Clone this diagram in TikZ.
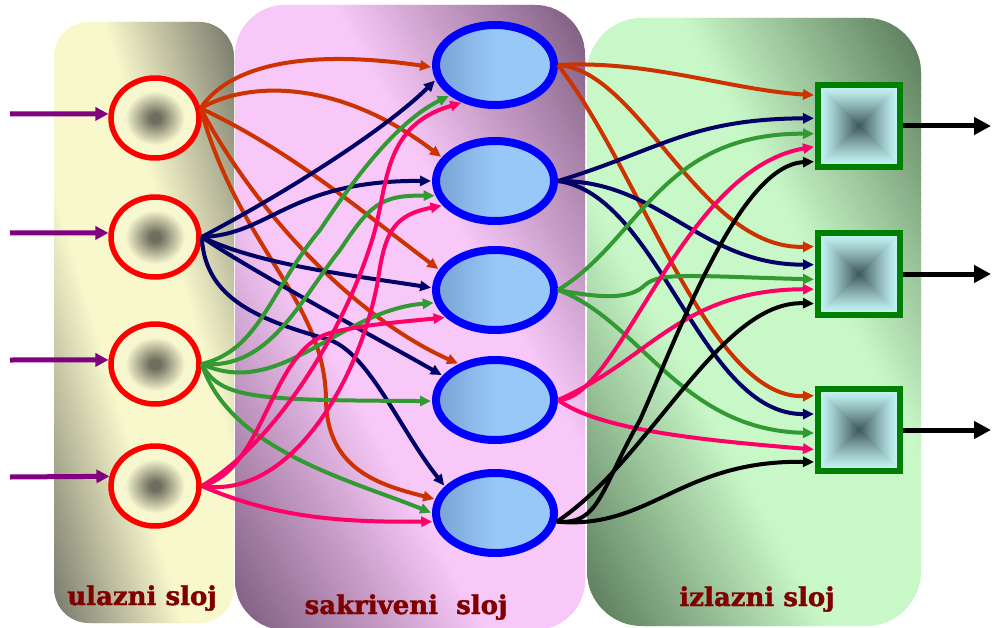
\documentclass[tikz,border=0pt]{standalone}
\usepackage{fontspec}
\newfontfamily\lblfont{DejaVu Serif}[BoldFeatures={FakeBold=1.5}]
\usetikzlibrary{arrows.meta,shapes.geometric}
\definecolor{p1l}{HTML}{F8F8CC}
\definecolor{p1d}{HTML}{76766A}
\definecolor{p2l}{HTML}{F8C8F8}
\definecolor{p2d}{HTML}{7A5A7C}
\definecolor{p3l}{HTML}{C8F8C8}
\definecolor{p3d}{HTML}{567656}
\definecolor{hl}{HTML}{98C8F8}
\definecolor{hd}{HTML}{78A2D2}
\definecolor{icD}{HTML}{6E6E5E}
\definecolor{icL}{HTML}{F8F8D0}
\definecolor{sqL}{HTML}{C8F8F8}
\definecolor{sqD}{HTML}{3E585C}
\definecolor{cOr}{HTML}{CC3300}
\definecolor{cNv}{HTML}{000066}
\definecolor{cGr}{HTML}{339933}
\definecolor{cPk}{HTML}{FF0066}
\definecolor{purp}{HTML}{800080}
\definecolor{grn}{HTML}{008000}
\definecolor{lblred}{HTML}{800000}
\pgfdeclareradialshading{inball}{\pgfpoint{0bp}{0bp}}{color(0bp)=(icD); color(3bp)=(icD); color(17bp)=(icL); color(25bp)=(icL); color(50bp)=(icL)}
% panel with a diagonal gradient: light along the top-left/bottom-right diagonal
\newcommand{\mypanel}[7]{%
 \begin{scope}
 \clip[rounded corners=#5] (#1,#2) rectangle (#3,#4);
 \pgfmathsetmacro{\myW}{#3-#1}
 \foreach \k in {0,...,149}{
   \pgfmathsetmacro{\myA}{\myW*(2*\k/150-1)}
   \pgfmathsetmacro{\myB}{\myW*(2*(\k+1.6)/150-1)}
   \pgfmathsetmacro{\myT}{abs(2*(\k+0.5)/150-1)}
   \pgfmathsetmacro{\myP}{\myT<0.28 ? 100 : 100*(1-(\myT-0.28)/0.72)}
   \pgfmathsetmacro{\xa}{#1+\myA}
   \pgfmathsetmacro{\xb}{#3+\myA}
   \pgfmathsetmacro{\xc}{#3+\myB}
   \pgfmathsetmacro{\xd}{#1+\myB}
   \fill[#6!\myP!#7] (\xa,#2) -- (\xb,#4) -- (\xc,#4) -- (\xd,#2) -- cycle;
 }
 \end{scope}}
\tikzset{
 edge/.style={line width=4pt, -{Triangle[length=11pt,width=10pt]}, shorten >=1pt},
 eor/.style={edge, draw=cOr},
 env/.style={edge, draw=cNv},
 egr/.style={edge, draw=cGr},
 epk/.style={edge, draw=cPk},
 ebk/.style={edge, draw=black},
 innode/.style={ellipse, draw=red, line width=5.5pt, minimum width=88pt, minimum height=80pt, inner sep=0pt, shade, shading=inball},
 hidnode/.style={ellipse, draw=blue, line width=8pt, minimum width=118pt, minimum height=80pt, inner sep=0pt, left color=hd, right color=hl, middle color=hl},
 outnode/.style={rectangle, draw=grn, line width=6pt, minimum size=82pt, inner sep=0pt,
   path picture={
     \foreach \q in {0,...,40}{
       \pgfmathsetmacro{\qs}{41*(1-\q/41)}
       \pgfmathsetmacro{\qp}{100*(1-(\q/40)^1.25)}
       \fill[sqL!\qp!sqD] ([shift={(-\qs,-\qs)}]path picture bounding box.center) rectangle ([shift={(\qs,\qs)}]path picture bounding box.center);
     }
   }},
 inarr/.style={line width=5pt, draw=purp, -{Triangle[length=13pt,width=13pt]}},
 outarr/.style={line width=5pt, draw=black, -{Triangle[length=17pt,width=17pt]}},
 lbl/.style={font=\lblfont\bfseries\fontsize{26}{28}\selectfont, text=lblred, anchor=base, inner sep=0pt},
}
\begin{document}
\begin{tikzpicture}[x=1pt,y=-1pt]
\useasboundingbox (0,0) rectangle (992,628);
% panels
\mypanel{54}{22}{234}{623}{35pt}{p1l}{p1d}
\mypanel{235}{5}{585}{630}{50pt}{p2l}{p2d}
\mypanel{587}{18}{921}{626}{55pt}{p3l}{p3d}
% nodes
\node[innode] (in1) at (155,118) {};
\node[innode] (in2) at (155,237) {};
\node[innode] (in3) at (155,364) {};
\node[innode] (in4) at (155,486) {};
\node[hidnode] (h1) at (495,65) {};
\node[hidnode] (h2) at (495,181) {};
\node[hidnode] (h3) at (495,290) {};
\node[hidnode] (h4) at (495,400) {};
\node[hidnode] (h5) at (495,513) {};
\node[outnode] (o1) at (859,126) {};
\node[outnode] (o2) at (859,274) {};
\node[outnode] (o3) at (859,430) {};
% input / output arrows
\coordinate (s1) at (10,114);
\coordinate (s2) at (10,233);
\coordinate (s3) at (10,360);
\coordinate (s4) at (10,477);
\draw[inarr] (s1) -- (in1.175);
\draw[inarr] (s2) -- (in2.175);
\draw[inarr] (s3) -- (in3.175);
\draw[inarr] (s4) -- (in4.168);
\coordinate (t1) at (991,126);
\coordinate (t2) at (991,274);
\coordinate (t3) at (991,430);
\draw[outarr] (o1.east) -- (t1);
\draw[outarr] (o2.east) -- (t2);
\draw[outarr] (o3.east) -- (t3);
% input -> hidden : orange
\draw[eor] (in1.12) .. controls (240,50) and (350,55) .. (h1.182);
\draw[eor] (in1.12) .. controls (250,80) and (340,80) .. (h2.156);
\draw[eor] (in1.12) .. controls (290,150) and (360,210) .. (h3.160);
\draw[eor] (in1.12) .. controls (260,220) and (360,320) .. (h4.135);
\draw[eor] (in1.12) .. controls (240,250) and (325,300) .. (326,400) .. controls (327,470) and (380,485) .. (h5.167);
% navy
\draw[env] (in2.east) .. controls (300,185) and (390,125) .. (h1.194);
\draw[env] (in2.east) .. controls (270,235) and (290,180) .. (h2.180);
\draw[env] (in2.east) .. controls (260,265) and (350,275) .. (h3.178);
\draw[env] (in2.east) .. controls (250,270) and (380,340) .. (h4.155);
\draw[env] (in2.east) .. controls (205,300) and (260,320) .. (330,340) .. controls (370,355) and (400,430) .. (h5.152);
% green
\draw[egr] (in3.east) .. controls (260,350) and (270,290) .. (320,230) .. controls (360,170) and (400,120) .. (h1.214);
\draw[egr] (in3.east) .. controls (270,370) and (300,300) .. (340,250) .. controls (370,205) and (380,195) .. (h2.194);
\draw[egr] (in3.east) .. controls (280,400) and (340,310) .. (h3.192);
\draw[egr] (in3.east) .. controls (220,400) and (260,400) .. (h4.181);
\draw[egr] (in3.east) .. controls (230,450) and (350,480) .. (h5.180);
% pink
\draw[epk] (in4.east) .. controls (280,440) and (350,320) .. (375,230) .. controls (388,180) and (385,125) .. (h1.229);
\draw[epk] (in4.east) .. controls (290,500) and (360,380) .. (378,280) .. controls (385,230) and (395,215) .. (h2.205);
\draw[epk] (in4.east) .. controls (265,470) and (270,350) .. (330,333) .. controls (360,325) and (400,322) .. (h3.209);
\draw[epk] (in4.east) .. controls (280,520) and (350,522) .. (h5.188);
% hidden -> output
\draw[eor] (h1.east) .. controls (650,60) and (730,90) .. (o1.145);
\draw[eor] (h1.east) .. controls (640,70) and (700,250) .. (o2.148);
\draw[eor] (h1.east) .. controls (640,170) and (710,400) .. (o3.142);
\draw[env] (h2.east) .. controls (660,150) and (690,119) .. (o1.170);
\draw[env] (h2.east) .. controls (660,180) and (700,265) .. (o2.168);
\draw[env] (h2.east) .. controls (660,195) and (700,415) .. (o3.160);
\draw[egr] (h3.east) .. controls (640,240) and (660,133) .. (o1.190);
\draw[egr] (h3.east) .. controls (600,298) and (630,300) .. (645,285) .. controls (660,272) and (690,276) .. (o2.187);
\draw[egr] (h3.east) .. controls (640,320) and (680,430) .. (o3.184);
\draw[epk] (h4.east) .. controls (620,400) and (680,170) .. (o1.205);
\draw[epk] (h4.east) .. controls (650,360) and (680,290) .. (o2.199);
\draw[epk] (h4.east) .. controls (600,430) and (700,440) .. (o3.204);
\draw[ebk] (h5.352) .. controls (600,525) and (600,490) .. (640,420) .. controls (680,330) and (740,165) .. (o1.219);
\draw[ebk] (h5.352) .. controls (650,460) and (720,300) .. (o2.214);
\draw[ebk] (h5.352) .. controls (650,530) and (680,460) .. (o3.216);
% labels
\node[lbl] (l1) at (142,605) {ulazni sloj};
\node[lbl] (l2) at (406,614) {sakriveni\ \ sloj};
\node[lbl] (l3) at (757,606) {izlazni sloj};
\end{tikzpicture}
\end{document}
